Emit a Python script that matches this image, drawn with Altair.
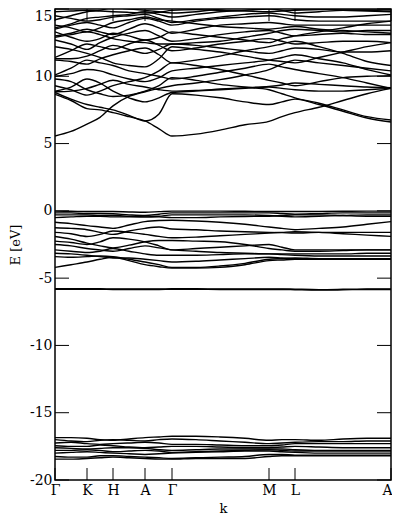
import altair as alt
import pandas as pd

# k-path sample positions (arbitrary path-length units)
K_SAMPLES = [0, 16, 32, 45, 58, 74, 90, 104, 117, 141, 165, 190, 214, 227, 240, 264, 288, 312, 336]
HS_POS = [0, 32, 58, 90, 117, 214, 240, 336]
HS_LABELS = ["Γ", "K", "H", "A", "Γ", "M", "L", "A"]
Y_TICKS = [-20, -15, -10, -5, 0, 5, 10, 15]

CONDUCTION_BANDS = [
    [5.56, 5.9, 6.45, 6.95, 7.8, 8.5, 8.85, 9.1, 9.3, 9.5, 9.75, 10.1, 10.5, 10.9, 11.2, 11.0, 10.8, 10.6, 10.4],
    [8.66, 8.2, 7.6, 7.5, 7.3, 7.0, 6.68, 6.1, 5.56, 5.7, 6.0, 6.4, 6.65, 7.0, 7.3, 7.7, 8.2, 8.7, 9.1],
    [8.8, 8.3, 7.9, 7.7, 7.5, 7.1, 6.68, 7.2, 8.7, 8.6, 8.4, 8.1, 7.9, 8.1, 8.3, 7.9, 7.4, 6.9, 6.6],
    [8.9, 9.2, 9.8, 9.5, 8.9, 8.4, 8.1, 8.4, 8.8, 8.9, 9.0, 9.1, 9.2, 9.1, 9.0, 8.9, 8.9, 9.0, 9.1],
    [9.8, 9.6, 9.0, 8.7, 8.5, 8.6, 8.9, 9.3, 9.9, 9.7, 9.4, 9.2, 9.0, 8.7, 8.4, 8.0, 7.5, 7.0, 6.75],
    [10.0, 10.2, 10.5, 10.4, 10.1, 9.8, 9.6, 9.9, 10.4, 10.6, 10.8, 11.0, 11.2, 11.4, 11.6, 11.3, 11.0, 10.5, 10.1],
    [10.1, 10.6, 11.2, 11.0, 10.8, 10.4, 10.2, 10.0, 9.8, 10.0, 10.3, 10.6, 10.9, 10.7, 10.5, 10.2, 9.9, 9.5, 9.1],
    [11.2, 11.1, 10.9, 11.3, 11.6, 11.9, 12.1, 11.6, 11.0, 11.2, 11.5, 11.9, 12.2, 12.4, 12.6, 12.2, 11.7, 11.1, 10.8],
    [11.4, 11.9, 12.4, 12.2, 12.0, 12.4, 12.7, 12.3, 11.9, 12.1, 12.4, 12.6, 12.8, 12.6, 12.4, 12.5, 12.6, 12.6, 12.5],
    [12.7, 12.4, 12.0, 12.5, 12.9, 13.2, 13.4, 13.0, 12.6, 12.8, 13.1, 13.3, 13.4, 13.2, 13.0, 13.1, 13.2, 13.1, 13.1],
    [13.0, 13.2, 13.5, 13.3, 13.1, 13.5, 13.9, 13.6, 13.2, 13.5, 13.8, 13.9, 14.0, 13.9, 13.8, 13.8, 13.8, 13.8, 13.8],
    [13.5, 13.8, 14.0, 13.8, 13.6, 14.0, 14.3, 14.1, 13.8, 14.1, 14.3, 14.4, 14.5, 14.4, 14.2, 14.1, 14.1, 14.1, 14.1],
    [13.6, 13.9, 14.3, 14.4, 14.5, 14.6, 14.8, 14.6, 14.4, 14.6, 14.8, 14.9, 15.0, 14.9, 14.7, 14.8, 14.9, 14.9, 14.85],
    [14.2, 14.5, 14.8, 14.9, 15.1, 15.0, 14.9, 14.8, 14.7, 14.8, 15.0, 15.2, 15.3, 15.2, 15.0, 15.0, 14.9, 14.85, 14.8],
    [14.8, 14.85, 14.9, 14.85, 14.8, 14.75, 14.7, 14.75, 14.9, 14.95, 14.9, 14.85, 14.8, 14.85, 14.9, 14.95, 15.0, 15.0, 15.0],
    [9.3, 9.0, 8.6, 8.9, 9.3, 9.6, 9.9, 10.4, 11.0, 10.8, 10.5, 10.1, 9.7, 9.5, 9.3, 9.6, 9.9, 10.0, 10.05],
    [12.2, 12.0, 11.7, 11.4, 11.0, 10.8, 10.7, 11.3, 12.2, 12.0, 11.8, 11.5, 11.2, 11.1, 11.0, 11.4, 11.8, 12.2, 12.5],
    [13.3, 12.9, 12.6, 12.8, 13.2, 13.0, 12.7, 12.9, 13.3, 13.1, 12.9, 12.7, 12.5, 12.8, 13.0, 13.3, 13.6, 13.9, 14.1],
    [8.85, 8.9, 9.1, 9.4, 9.7, 9.4, 9.2, 9.0, 8.9, 8.95, 9.05, 9.15, 9.25, 9.35, 9.5, 9.4, 9.3, 9.2, 9.15],
    [11.3, 11.3, 11.5, 11.9, 12.3, 12.0, 11.7, 12.0, 12.4, 12.3, 12.1, 11.9, 11.7, 11.9, 12.1, 12.0, 11.8, 11.8, 11.9],
    [14.5, 14.3, 14.1, 14.2, 14.4, 14.5, 14.6, 14.3, 14.0, 14.2, 14.4, 14.6, 14.7, 14.6, 14.5, 14.4, 14.4, 14.5, 14.6],
    [13.8, 13.6, 13.3, 13.6, 14.0, 14.2, 14.4, 14.2, 14.1, 13.9, 13.7, 13.6, 13.5, 13.6, 13.7, 13.5, 13.4, 13.3, 13.2],
    [12.9, 13.1, 13.3, 13.1, 12.8, 12.6, 12.5, 12.4, 12.4, 12.5, 12.6, 12.9, 13.2, 13.4, 13.5, 13.4, 13.3, 13.4, 13.4],
]

VALENCE_BANDS = [
    [-0.02, -0.03, -0.05, -0.05, -0.05, -0.08, -0.1, -0.06, -0.02, -0.02, -0.02, -0.03, -0.05, -0.05, -0.05, -0.04, -0.03, -0.02, -0.02],
    [-0.15, -0.15, -0.2, -0.2, -0.22, -0.3, -0.35, -0.25, -0.15, -0.15, -0.15, -0.15, -0.15, -0.2, -0.25, -0.2, -0.15, -0.15, -0.15],
    [-0.3, -0.3, -0.3, -0.35, -0.35, -0.4, -0.45, -0.4, -0.3, -0.3, -0.3, -0.3, -0.35, -0.4, -0.45, -0.4, -0.35, -0.3, -0.3],
    [-0.5, -0.45, -0.4, -0.4, -0.45, -0.45, -0.45, -0.45, -0.5, -0.5, -0.45, -0.42, -0.4, -0.35, -0.3, -0.3, -0.35, -0.4, -0.4],
    [-0.85, -0.95, -1.1, -1.2, -1.3, -1.05, -0.8, -0.72, -0.7, -0.75, -0.85, -1.0, -1.2, -1.3, -1.4, -1.3, -1.2, -1.0, -0.8],
    [-1.25, -1.3, -1.4, -1.6, -1.75, -1.5, -1.3, -1.2, -1.35, -1.4, -1.5, -1.55, -1.6, -1.62, -1.65, -1.6, -1.6, -1.6, -1.6],
    [-1.6, -1.7, -1.9, -1.75, -1.5, -1.6, -1.75, -1.9, -2.0, -1.95, -1.85, -1.75, -1.65, -1.6, -1.55, -1.6, -1.7, -1.8, -1.9],
    [-1.9, -2.1, -2.4, -2.6, -2.75, -2.55, -2.3, -2.2, -2.2, -2.25, -2.3, -2.5, -2.8, -2.9, -3.0, -3.0, -2.95, -2.9, -2.9],
    [-2.25, -2.35, -2.5, -2.3, -2.0, -2.1, -2.3, -2.6, -2.9, -2.8, -2.7, -2.6, -2.5, -2.7, -2.9, -2.9, -2.9, -2.9, -2.9],
    [-2.5, -2.6, -2.8, -2.9, -3.0, -2.8, -2.6, -2.75, -2.9, -3.0, -3.1, -3.15, -3.2, -3.2, -3.2, -3.2, -3.2, -3.15, -3.15],
    [-2.9, -3.0, -3.1, -3.0, -2.8, -3.0, -3.2, -3.3, -3.3, -3.3, -3.25, -3.2, -3.2, -3.25, -3.3, -3.35, -3.35, -3.35, -3.35],
    [-3.15, -3.2, -3.3, -3.4, -3.5, -3.5, -3.6, -3.7, -3.8, -3.75, -3.65, -3.55, -3.45, -3.5, -3.55, -3.6, -3.6, -3.6, -3.6],
    [-3.4, -3.45, -3.4, -3.35, -3.4, -3.6, -3.8, -4.0, -4.2, -4.2, -4.1, -3.9, -3.6, -3.55, -3.5, -3.55, -3.55, -3.55, -3.55],
    [-4.2, -4.0, -3.8, -3.6, -3.45, -3.7, -4.0, -4.15, -4.25, -4.25, -4.2, -4.0, -3.7, -3.65, -3.6, -3.6, -3.6, -3.6, -3.6],
]

FLAT_BANDS = [
    [-5.78, -5.78, -5.79, -5.79, -5.8, -5.8, -5.8, -5.8, -5.79, -5.79, -5.8, -5.8, -5.8, -5.8, -5.82, -5.85, -5.83, -5.8, -5.8],
    [-5.82, -5.82, -5.83, -5.83, -5.84, -5.84, -5.84, -5.84, -5.83, -5.83, -5.84, -5.84, -5.84, -5.84, -5.86, -5.89, -5.87, -5.84, -5.84],
]

SEMICORE_BANDS = [
    [-16.85, -16.85, -16.9, -17.0, -17.05, -16.95, -16.85, -16.8, -16.75, -16.75, -16.8, -16.9, -17.05, -17.0, -17.0, -17.05, -16.95, -16.9, -16.9],
    [-17.0, -17.1, -17.15, -17.05, -17.0, -17.05, -17.1, -17.0, -16.95, -17.0, -17.1, -17.2, -17.3, -17.25, -17.2, -17.15, -17.15, -17.1, -17.1],
    [-17.25, -17.2, -17.3, -17.35, -17.3, -17.25, -17.2, -17.25, -17.35, -17.35, -17.4, -17.45, -17.45, -17.4, -17.3, -17.3, -17.3, -17.3, -17.3],
    [-17.45, -17.5, -17.5, -17.4, -17.45, -17.55, -17.6, -17.55, -17.5, -17.5, -17.55, -17.6, -17.6, -17.55, -17.5, -17.55, -17.6, -17.6, -17.6],
    [-17.6, -17.65, -17.7, -17.65, -17.6, -17.6, -17.65, -17.75, -17.8, -17.75, -17.7, -17.7, -17.7, -17.7, -17.75, -17.8, -17.8, -17.8, -17.8],
    [-17.8, -17.8, -17.75, -17.8, -17.9, -17.85, -17.8, -17.85, -17.95, -17.9, -17.85, -17.8, -17.75, -17.8, -17.85, -17.85, -17.85, -17.85, -17.85],
    [-18.0, -17.95, -17.9, -17.95, -18.0, -18.05, -18.1, -18.05, -18.0, -17.95, -17.9, -17.85, -17.85, -17.9, -17.95, -18.0, -18.0, -18.0, -18.0],
    [-18.25, -18.3, -18.3, -18.2, -18.2, -18.25, -18.3, -18.35, -18.4, -18.35, -18.3, -18.25, -18.1, -18.1, -18.15, -18.15, -18.15, -18.15, -18.15],
    [-18.45, -18.45, -18.4, -18.35, -18.3, -18.35, -18.4, -18.45, -18.45, -18.4, -18.4, -18.4, -18.25, -18.2, -18.2, -18.2, -18.2, -18.2, -18.2],
]

W, H = 336, 471
FONT = "DejaVu Serif"

rows = []
for group, bands in [("c", CONDUCTION_BANDS), ("v", VALENCE_BANDS), ("f", FLAT_BANDS), ("s", SEMICORE_BANDS)]:
    for i, band in enumerate(bands):
        for k, e in zip(K_SAMPLES, band):
            rows.append({"k": k, "E": e, "band": f"{group}{i}"})
df = pd.DataFrame(rows)

label_expr = " : ".join(f"datum.value == {p} ? '{l}'" for p, l in zip(HS_POS, HS_LABELS)) + " : ''"

x_enc = alt.X(
    "k:Q",
    scale=alt.Scale(domain=[0, W], nice=False, zero=False),
    axis=alt.Axis(values=HS_POS, labelExpr=label_expr, title="k", ticks=False, domain=False,
                  grid=False, labelPadding=3, titlePadding=5, labelFlush=False,
                  labelFontSize=14,
                  labelOffset={"condition": {"test": f"datum.value == {HS_POS[-1]}", "value": -4}, "value": 0}),
)
y_enc = alt.Y(
    "E:Q",
    scale=alt.Scale(domain=[-20, 15], nice=False, zero=False),
    axis=alt.Axis(values=Y_TICKS, labelExpr="'' + datum.value", title="E [eV]", ticks=False,
                  domain=False, grid=False, labelPadding=3, titlePadding=7, labelFlush=False,
                  labelFontSize=14,
                  labelBaseline={"condition": {"test": "datum.value == 15", "value": "top"}, "value": "middle"}),
)

lines = alt.Chart(df).mark_line(color="black", strokeWidth=1.4, clip=True, interpolate="monotone").encode(
    x=x_enc, y=y_enc, detail="band:N"
)

xt = pd.DataFrame({"k": HS_POS})
yt = pd.DataFrame({"E": Y_TICKS})
xtick_bottom = alt.Chart(xt).mark_rule(color="black", strokeWidth=1).encode(
    x=x_enc, y=alt.value(H), y2=alt.value(H - 12))
xtick_top = alt.Chart(xt).mark_rule(color="black", strokeWidth=1).encode(
    x=x_enc, y=alt.value(0), y2=alt.value(12))
ytick_left = alt.Chart(yt).mark_rule(color="black", strokeWidth=1).encode(
    y=y_enc, x=alt.value(0), x2=alt.value(14))
ytick_right = alt.Chart(yt).mark_rule(color="black", strokeWidth=1).encode(
    y=y_enc, x=alt.value(W - 14), x2=alt.value(W))

chart = alt.layer(lines, xtick_bottom, xtick_top, ytick_left, ytick_right).properties(
    width=W, height=H,
    autosize=alt.AutoSizeParams(type="none"),
    padding={"left": 47, "top": 1, "right": 1, "bottom": 34},
).configure_view(
    stroke="black", strokeWidth=1.5
).configure_axis(
    labelFont=FONT, labelColor="black",
    titleFont=FONT, titleFontSize=13, titleFontWeight="normal", titleColor="black",
)

chart.save("out.html", embed_options={"renderer": "svg", "actions": False})
